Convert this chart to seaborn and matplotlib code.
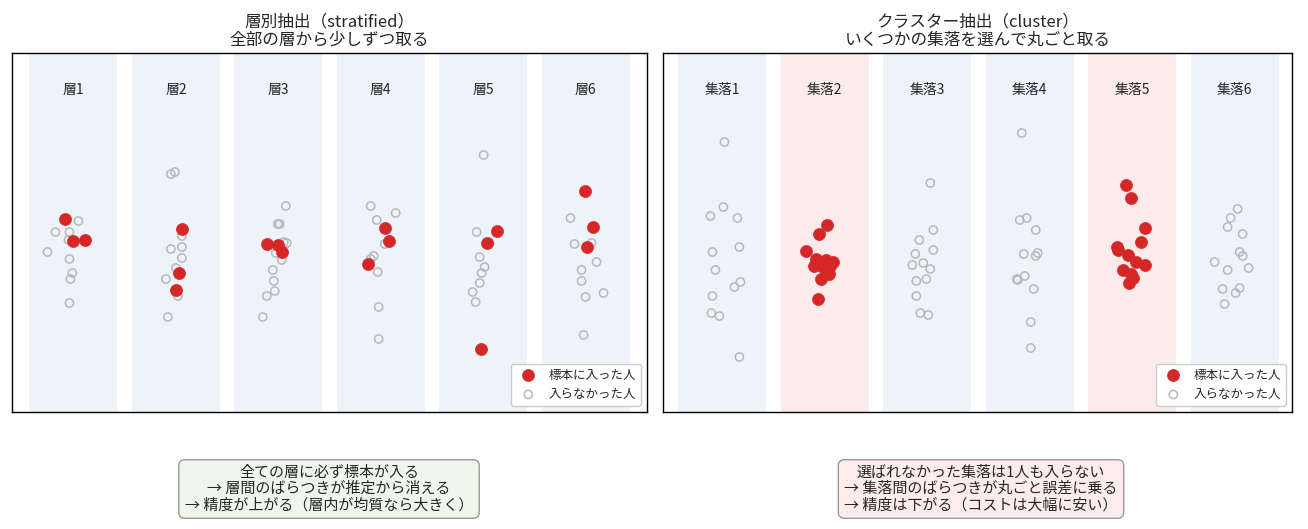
import matplotlib
matplotlib.use("Agg")
import matplotlib.pyplot as plt
import seaborn as sns
import pandas as pd
from matplotlib.patches import Rectangle

sns.set_style("white")
plt.rcParams['font.family'] = ['Noto Sans CJK JP', 'DejaVu Sans']

# ---- data: (jitter, level) per group; level measured from the bottom (0..359) ----
strata = ["層1", "層2", "層3", "層4", "層5", "層6"]
clusters = ["集落1", "集落2", "集落3", "集落4", "集落5", "集落6"]

# stratified: sampled
s_in_dx = [[-8, 0, 12], [6, 3, 0], [-11.5, -0.5, 3.5], [4, 8, -13], [13.5, 3.5, -2.5], [-1, 7, 1]]
s_in_y = [[193, 171, 172], [183, 139, 122], [168, 167, 160], [184, 171, 148], [181, 169, 63], [221, 185, 165]]
# stratified: not sampled
s_out_dx = [[5, -18, -4, -5, -26, -4, -1, -3, -4],
            [-5, -1, 6, -5, 6, 6, -10, 0, 2, -8],
            [7.5, -0.5, 1.5, 8.5, 5.5, -2.5, 3.5, -5.5, -4.5, -3.5, -11.5, -15.5],
            [-10, 15, -4, 4, -7, -10, -3, -2, -2],
            [0.5, -6.5, 6.5, -3.5, 1.5, -1.5, -3.5, -10.5, -7.5],
            [-15, -11, 6, 11, -4, -4, 0, 18, -2]]
s_out_y = [[191, 180, 180, 172, 160, 153, 139, 133, 109],
           [238, 240, 176, 163, 165, 154, 133, 144, 116, 95],
           [206, 188, 188, 169, 170, 159, 152, 142, 131, 121, 116, 95],
           [206, 199, 192, 168, 156, 153, 140, 105, 73],
           [257, 180, 169, 155, 145, 139, 129, 120, 110],
           [194, 168, 169, 150, 142, 131, 115, 119, 77]]

# cluster: levels per cluster (all members), chosen clusters 2 and 5
c_dx = [[2, -12, 1, 15, -10, 17, -7, 12, 18, -10, -11, -3, 17],
        [2, -6, -19, -9, 1, 8, -11, -5, 5, -1, -4, 4, -7],
        [3, 6, -8, -12, 6, -15, -4, 3, -1, -11, -11, -7, 1],
        [-8, -3, -10, 6, -6, 8, 6, -5, -12, 4, 1, 1, -13],
        [-6, -1, 13, 9, -15, -4, 4, 13, -9, -1, -3, 1, -14],
        [3, -4, -7, 8, 5, 8, 14, -20, -7, 5, 1, -12, -10]]
c_y = [[270, 196, 205, 194, 160, 165, 142, 125, 130, 116, 99, 96, 55],
       [187, 178, 161, 153, 152, 150, 146, 147, 146, 144, 133, 138, 113],
       [229, 182, 172, 158, 162, 147, 149, 143, 133, 131, 116, 99, 97],
       [279, 194, 192, 182, 158, 159, 156, 136, 132, 123, 90, 64, 133],
       [227, 214, 184, 170, 165, 157, 150, 147, 142, 138, 129, 134, 162],
       [203, 194, 185, 178, 160, 156, 144, 150, 142, 124, 119, 123, 108]]
chosen = [1, 4]

SP = 102.5  # jitter units per group spacing


def frame(dx_groups, y_groups, subset=None):
    rows = []
    for g, (dxs, ys) in enumerate(zip(dx_groups, y_groups)):
        if subset is not None and g not in subset:
            continue
        for dx, y in zip(dxs, ys):
            rows.append({"x": g + dx / SP, "y": y})
    return pd.DataFrame(rows)


fig = plt.figure(figsize=(13.08, 5.29), dpi=100)
axL = fig.add_axes([12/1308, 117/529, 635/1308, 359/529])
axR = fig.add_axes([663/1308, 117/529, 629/1308, 359/529])

red = "#d62728"
gray = "#b8b8b8"


def setup(ax, labels, colors):
    for i, (lab, c) in enumerate(zip(labels, colors)):
        ax.add_patch(Rectangle((i - 0.43, 0), 0.86, 359, color=c, zorder=0, lw=0))
        ax.text(i, 322, lab, ha="center", va="center", fontsize=10)
    ax.set_ylim(0, 359)
    for s in ax.spines.values():
        s.set_visible(True); s.set_color("black"); s.set_linewidth(1)


def draw(ax, dfin, dfout):
    sns.scatterplot(data=dfin, x="x", y="y", ax=ax, color=red, s=75, edgecolor=red,
                    linewidth=0.5, label="標本に入った人", zorder=3)
    sns.scatterplot(data=dfout, x="x", y="y", ax=ax, facecolor="none", edgecolor=gray,
                    s=35, linewidth=1.1, label="入らなかった人", zorder=2)
    ax.legend(loc="lower right", fontsize=9, frameon=True, framealpha=1, borderpad=0.4,
              handletextpad=0.6, edgecolor="#cccccc")


blue_band = "#eef2f9"
red_band = "#fdeaea"
setup(axL, strata, [blue_band] * 6)
draw(axL, frame(s_in_dx, s_in_y), frame(s_out_dx, s_out_y))
setup(axR, clusters, [red_band if i in chosen else blue_band for i in range(6)])
draw(axR, frame(c_dx, c_y, chosen), frame(c_dx, c_y, [i for i in range(6) if i not in chosen]))
axL.set_xlim(-0.6, 5.6)
axR.set_xlim(-0.58, 5.56)
for ax in (axL, axR):
    ax.set_xlabel(""); ax.set_ylabel("")
    ax.set_xticks([]); ax.set_yticks([])

axL.set_title("層別抽出（stratified）\n全部の層から少しずつ取る", fontsize=12, linespacing=1.1)
axR.set_title("クラスター抽出（cluster）\nいくつかの集落を選んで丸ごと取る", fontsize=12, linespacing=1.1)

fig.text(329/1308, 40/529, "全ての層に必ず標本が入る\n→ 層間のばらつきが推定から消える\n→ 精度が上がる（層内が均質なら大きく）",
         ha="center", va="center", fontsize=10.8, linespacing=1.15,
         bbox=dict(boxstyle="round,pad=0.4", fc="#eef6ec", ec="#999999"))
fig.text(981/1308, 40/529, "選ばれなかった集落は1人も入らない\n→ 集落間のばらつきが丸ごと誤差に乗る\n→ 精度は下がる（コストは大幅に安い）",
         ha="center", va="center", fontsize=10.8, linespacing=1.15,
         bbox=dict(boxstyle="round,pad=0.4", fc="#fcecec", ec="#999999"))

fig.savefig("out.png", dpi=100)
